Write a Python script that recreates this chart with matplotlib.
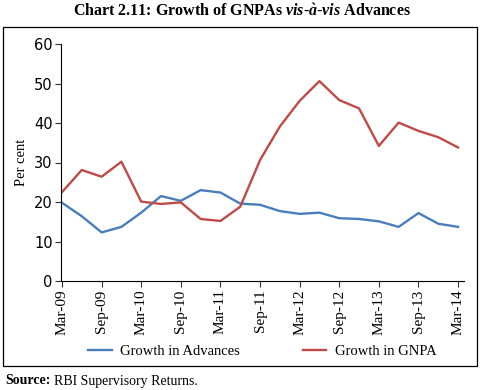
import matplotlib
matplotlib.use("Agg")
import matplotlib.pyplot as plt
from matplotlib.patches import Rectangle

quarters = ["Mar-09", "Jun-09", "Sep-09", "Dec-09", "Mar-10", "Jun-10", "Sep-10",
            "Dec-10", "Mar-11", "Jun-11", "Sep-11", "Dec-11", "Mar-12", "Jun-12",
            "Sep-12", "Dec-12", "Mar-13", "Jun-13", "Sep-13", "Dec-13", "Mar-14"]

advances = [19.8, 16.4, 12.3, 13.7, 17.3, 21.5, 20.3, 23.0, 22.4, 19.6, 19.3,
            17.7, 17.0, 17.3, 15.9, 15.7, 15.1, 13.7, 17.2, 14.5, 13.7]
gnpa = [22.5, 28.1, 26.4, 30.2, 20.1, 19.5, 19.9, 15.7, 15.2, 18.8, 30.6,
        39.1, 45.6, 50.6, 45.8, 43.7, 34.2, 40.1, 38.0, 36.4, 33.8]

blue = "#4A7EBB"
red = "#BE4B48"

plt.rcParams["mathtext.fontset"] = "custom"
plt.rcParams["mathtext.it"] = "Liberation Serif:italic:bold"
plt.rcParams["mathtext.rm"] = "Liberation Serif:bold"

fig = plt.figure(figsize=(4.84, 3.9), dpi=100)
ax = fig.add_axes([61/484, 1 - 281/390, (464 - 61)/484, (281 - 44)/390])

xs = list(range(len(quarters)))
ax.plot(xs, advances, color=blue, lw=1.7, label="Growth in Advances")
ax.plot(xs, gnpa, color=red, lw=1.7, label="Growth in GNPA")

ax.set_xlim(-0.05, 20.3)
ax.set_ylim(0, 60)
ax.set_yticks(range(0, 61, 10))
ax.set_xticks(xs[::2])
ax.set_xticklabels(quarters[::2], rotation=90, family="Liberation Serif", fontsize=11)
for lab in ax.get_yticklabels():
    lab.set_fontsize(10.5)
    lab.set_family("DejaVu Sans")
ax.tick_params(direction="out", length=4, width=0.8, color="#333333", pad=2)
ax.spines["top"].set_visible(False)
ax.spines["right"].set_visible(False)
ax.set_ylabel("Per cent", family="Liberation Serif", fontsize=10.5, labelpad=4)

ax.legend(loc="upper center", bbox_to_anchor=(0.5, -0.215), ncol=2, frameon=False,
          prop={"family": "Liberation Serif", "size": 10.5}, columnspacing=4.3,
          handlelength=1.6, handletextpad=0.6)

fig.add_artist(Rectangle((3/484, 1 - 366/390), 474/484, 339/390,
                         transform=fig.transFigure, fill=False, lw=0.9, ec="black"))

fig.text(0.5, 1 - 12/390, "Chart 2.11: Growth of GNPAs $vis$-$\\grave{a}$-$vis$ Advances",
         ha="center", va="center", family="Liberation Serif", weight="bold", fontsize=11.5)
fig.text(5/484, 1 - 381/390, "Source:", ha="left", va="center",
         family="Liberation Serif", weight="bold", fontsize=10)
fig.text(54/484, 1 - 381/390, "RBI Supervisory Returns.", ha="left", va="center",
         family="Liberation Serif", fontsize=10)

fig.savefig("out.png", dpi=100)
